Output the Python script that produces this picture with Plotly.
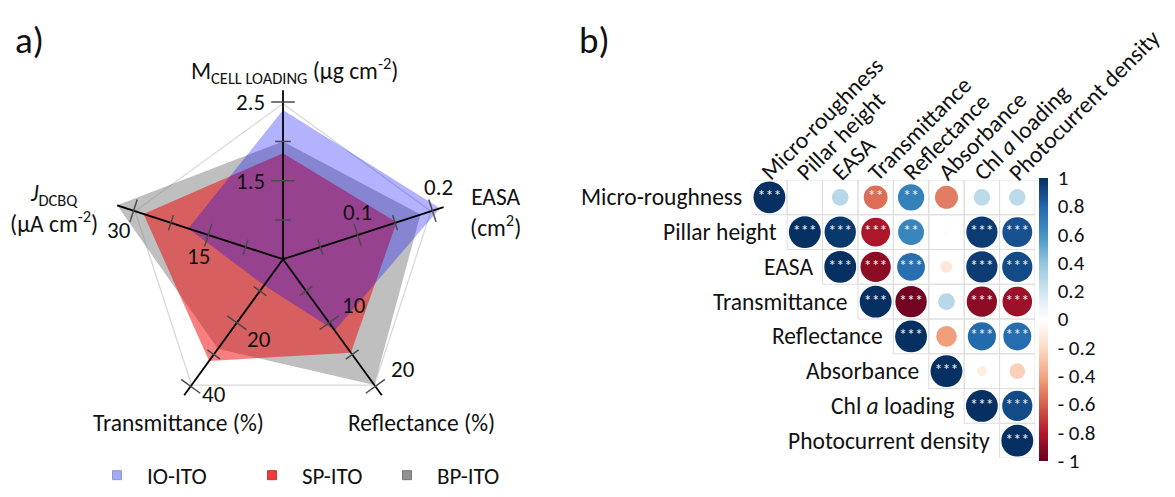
import numpy as np
import plotly.graph_objects as go

W, H = 1175, 497
FONT = "Carlito, Lato, sans-serif"
INK = "#111111"

# ---------------- radar chart data ----------------
radar_axes = ["M_CELL_LOADING", "EASA", "Reflectance", "Transmittance", "J_DCBQ"]
axis_theta = [90, 18, -54, -126, 162]            # clockwise from the top
axis_low = [0.5, 0.0, 0.0, 0.0, 0.0]             # value at the centre
axis_high = [2.5, 0.2, 20.0, 40.0, 30.0]         # value at the outer tick
axis_tick_values = [[1.5, 2.5], [0.1, 0.2], [10, 20], [20, 40], [15, 30]]

io_ito = [2.40, 0.210, 11.2, 8.2, 19.0]
sp_ito = [1.85, 0.152, 14.7, 32.0, 28.0]
bp_ito = [2.00, 0.184, 19.8, 28.2, 33.3]

# ---------------- correlation matrix data ----------------
variables = ["Micro-roughness", "Pillar height", "EASA", "Transmittance",
             "Reflectance", "Absorbance", "Chl <i>a</i> loading", "Photocurrent density"]
corr_upper = [
    [1.00, 0.00, 0.28, -0.56, 0.68, -0.52, 0.27, 0.27],
    [1.00, 0.97, -0.82, 0.66, 0.02, 0.96, 0.88],
    [1.00, -0.90, 0.76, -0.14, 0.96, 0.90],
    [1.00, -0.97, 0.28, -0.90, -0.86],
    [1.00, -0.42, 0.78, 0.77],
    [1.00, -0.10, -0.24],
    [1.00, 0.90],
    [1.00],
]
signif_upper = [
    ["***", "", "", "**", "**", "", "", ""],
    ["***", "***", "***", "**", "", "***", "***"],
    ["***", "***", "***", "", "***", "***"],
    ["***", "***", "", "***", "***"],
    ["***", "", "***", "***"],
    ["***", "", ""],
    ["***", "***"],
    ["***"],
]
colorbar_ticks = [-1, -0.8, -0.6, -0.4, -0.2, 0, 0.2, 0.4, 0.6, 0.8, 1]

# ---------------- radar layout geometry (pixels) ----------------
CX, CY = 283, 264          # centre of the radar
RPX = 160                  # pixels for one normalised unit (outer tick)
RMAX = 1.15
axis_extent = [1.075, 1.075, 1.07, 1.07, 1.11]


def norm(vals):
    return [(v - lo) / (hi - lo) for v, lo, hi in zip(vals, axis_low, axis_high)]


def to_paper(r, theta_deg, dx=0.0, dy=0.0):
    t = np.radians(theta_deg)
    x = CX + r * RPX * np.cos(t) + dx
    y = CY - r * RPX * np.sin(t) + dy
    return x / W, 1 - y / H


fig = go.Figure()

closed_theta = axis_theta + axis_theta[:1]

# outer grid pentagon
fig.add_trace(go.Scatterpolar(
    r=[0.99] * 6, theta=closed_theta, mode="lines",
    line=dict(color="#d9d9d9", width=1.3), hoverinfo="skip", showlegend=False))

series = [
    ("BP-ITO", bp_ito, "rgba(128,128,128,0.5)"),
    ("SP-ITO", sp_ito, "rgba(240,0,0,0.5)"),
    ("IO-ITO", io_ito, "rgba(0,0,255,0.3)"),
]
for name, vals, col in series:
    rr = norm(vals)
    fig.add_trace(go.Scatterpolar(
        r=rr + rr[:1], theta=closed_theta, mode="lines", fill="toself",
        fillcolor=col, line=dict(width=0, color=col), name=name,
        showlegend=False, hoverinfo="skip"))

# axis spokes
spoke_r, spoke_t = [], []
for th, ext in zip(axis_theta, axis_extent):
    spoke_r += [0, ext, None]
    spoke_t += [th, th, None]
fig.add_trace(go.Scatterpolar(r=spoke_r, theta=spoke_t, mode="lines",
                              line=dict(color="#000000", width=1.8),
                              hoverinfo="skip", showlegend=False))

# tick marks (quarter steps, longer where labelled)
tick_r, tick_t = [], []
for th in axis_theta:
    for k in range(1, 5):
        rk = k / 4
        half = (12 if k % 2 == 0 else 8) / RPX
        re = float(np.hypot(rk, half))
        dth = float(np.degrees(np.arctan2(half, rk)))
        tick_r += [re, re, None]
        tick_t += [th - dth, th + dth, None]
fig.add_trace(go.Scatterpolar(r=tick_r, theta=tick_t, mode="lines",
                              line=dict(color="#4a4a4a", width=1.5),
                              hoverinfo="skip", showlegend=False))

# legend entries (one small legend per series)
legend_items = [("IO-ITO", "rgba(150,165,240,0.9)", "#8c96d8", "legend"),
                ("SP-ITO", "rgba(240,50,50,0.95)", "#d03030", "legend2"),
                ("BP-ITO", "rgba(140,140,140,0.95)", "#777777", "legend3")]
for name, col, edge, lg in legend_items:
    fig.add_trace(go.Scatterpolar(r=[None], theta=[None], mode="markers", name=name,
                                  marker=dict(symbol="square", size=9, color=col,
                                              line=dict(color=edge, width=1)),
                                  legend=lg, showlegend=True))

annotations = []

# tick labels on each radar axis
tick_label_offsets = [
    [(-16, 0, "right", "middle"), (-16, 0, "right", "middle")],
    [(-2, -23, "center", "middle"), (3, -24, "center", "middle")],
    [(24, -18, "center", "middle"), (26, -18, "center", "middle")],
    [(23, 17, "center", "middle"), (25, 8, "center", "middle")],
    [(-8, 21, "center", "middle"), (-12, 20, "center", "middle")],
]
for i, th in enumerate(axis_theta):
    for v, (dx, dy, xa, ya) in zip(axis_tick_values[i], tick_label_offsets[i]):
        r = (v - axis_low[i]) / (axis_high[i] - axis_low[i])
        px, py = to_paper(r, th, dx, dy)
        annotations.append(dict(x=px, y=py, xref="paper", yref="paper", text=f"{v:g}",
                                showarrow=False, xanchor=xa, yanchor=ya,
                                font=dict(size=23, color=INK, family=FONT)))

# radar axis titles
radar_titles = [
    ("M<sub>CELL LOADING</sub> (µg cm<sup>-2</sup>)", 294, 72),
    ("EASA<br>(cm<sup>2</sup>)", 495, 216),
    ("Reflectance (%)", 421, 431),
    ("Transmittance (%)", 178, 431),
    ("<i>J</i><sub>DCBQ</sub><br>(µA cm<sup>-2</sup>)", 54, 212),
]
for txt, x, y in radar_titles:
    annotations.append(dict(x=x / W, y=1 - y / H, xref="paper", yref="paper", text=txt,
                            showarrow=False, xanchor="center", yanchor="middle",
                            font=dict(size=23.5, color=INK, family=FONT)))

# panel letters
for txt, x in [("a)", 13), ("b)", 577)]:
    annotations.append(dict(x=x / W, y=1 - 41 / H, xref="paper", yref="paper", text=txt,
                            showarrow=False, xanchor="left", yanchor="middle",
                            font=dict(size=37, color=INK, family=FONT)))

# ---------------- correlation plot ----------------
n = len(variables)
xs, ys, cs, ss = [], [], [], []
sx, sy, stxt = [], [], []
CELL = 35.4
for i, row in enumerate(corr_upper):
    for k, v in enumerate(row):
        j = i + k
        xs.append(j)
        ys.append(i)
        cs.append(v)
        ss.append(0.9 * CELL * np.sqrt(abs(v)))
        if signif_upper[i][k]:
            sx.append(j)
            sy.append(i)
            stxt.append(signif_upper[i][k])

shapes = []
for i in range(n):
    for j in range(i, n):
        shapes.append(dict(type="rect", xref="x", yref="y", x0=j - 0.5, x1=j + 0.5,
                           y0=i - 0.5, y1=i + 0.5, line=dict(color="#dedede", width=1),
                           layer="below"))

rdbu = ["#67001F", "#B2182B", "#D6604D", "#F4A582", "#FDDBC7", "#FFFFFF",
        "#D1E5F0", "#92C5DE", "#4393C3", "#2166AC", "#053061"]
cscale = [[i / 10, c] for i, c in enumerate(rdbu)]

fig.add_trace(go.Scatter(
    x=xs, y=ys, mode="markers", showlegend=False, hoverinfo="skip",
    marker=dict(size=ss, color=cs, colorscale=cscale, cmin=-1, cmax=1, line=dict(width=0),
                opacity=1,
                colorbar=dict(thickness=9, thicknessmode="pixels", len=283, lenmode="pixels",
                              x=1039 / W, xanchor="left", xpad=0, y=1 - 325 / H,
                              yanchor="middle", ypad=0, outlinewidth=0,
                              tickvals=colorbar_ticks,
                              ticktext=[("- " + f"{abs(t):g}") if t < 0 else f"{t:g}" for t in colorbar_ticks],
                              ticks="outside", ticklen=6, tickcolor="rgba(0,0,0,0)",
                              tickfont=dict(size=21, color=INK, family=FONT))),
    xaxis="x", yaxis="y"))

fig.add_trace(go.Scatter(
    x=sx, y=sy, mode="text", text=stxt, showlegend=False, hoverinfo="skip",
    textfont=dict(size=16, color="#f2f4f8", family=FONT), textposition="middle center"))

# row labels next to the diagonal, column labels across the top
for i, name in enumerate(variables):
    annotations.append(dict(x=i - 0.5, y=i, xref="x", yref="y", text=name, showarrow=False,
                            xanchor="right", yanchor="middle", xshift=-8,
                            font=dict(size=23.5, color=INK, family=FONT)))
    annotations.append(dict(x=i, y=-0.5, xref="x", yref="y", text=name, showarrow=False,
                            xanchor="left", yanchor="bottom", textangle=-45, xshift=-17, yshift=-9,
                            font=dict(size=23.5, color=INK, family=FONT)))

polar_dom_x = [(CX - RMAX * RPX) / W, (CX + RMAX * RPX) / W]
polar_dom_y = [1 - (CY + RMAX * RPX) / H, 1 - (CY - RMAX * RPX) / H]

legend_style = dict(yanchor="middle", xanchor="left", orientation="h", itemwidth=50,
                    bgcolor="rgba(0,0,0,0)", font=dict(size=23, color=INK, family=FONT))

fig.update_layout(
    width=W, height=H, margin=dict(l=0, r=0, t=0, b=0),
    paper_bgcolor="white", plot_bgcolor="white",
    font=dict(family=FONT, color=INK),
    polar=dict(domain=dict(x=polar_dom_x, y=polar_dom_y), bgcolor="rgba(0,0,0,0)",
               radialaxis=dict(range=[0, RMAX], visible=False),
               angularaxis=dict(visible=False, rotation=0, direction="counterclockwise",
                                thetaunit="degrees")),
    xaxis=dict(domain=[751.7 / W, 1035 / W], range=[-0.5, n - 0.5], visible=False,
               fixedrange=True),
    yaxis=dict(domain=[1 - 466.5 / H, 1 - 183.3 / H], range=[n - 0.5, -0.5], visible=False,
               fixedrange=True),
    shapes=shapes,
    annotations=annotations,
    legend=dict(x=87 / W, y=1 - 484 / H, **legend_style),
    legend2=dict(x=242 / W, y=1 - 484 / H, **legend_style),
    legend3=dict(x=377 / W, y=1 - 484 / H, **legend_style),
)

fig.write_html("out.html")
